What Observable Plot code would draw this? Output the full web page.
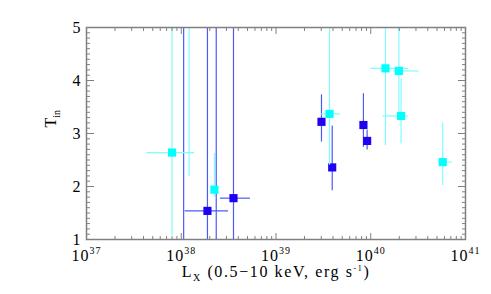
<!DOCTYPE html>
<html><head><meta charset="utf-8">
<script src="https://cdn.jsdelivr.net/npm/d3@7"></script>
<script src="https://cdn.jsdelivr.net/npm/@observablehq/plot@0.6"></script>
<style>body{margin:0;background:#fff}</style>
</head><body><div id="chart"></div>
<script>
// Blue points (null T = marker outside the plotted range)
const blueLx   = [1.89e38, 3.56e38, 3.02e39, 3.92e39, 8.37e39, 9.16e39, 1.06e38, 2.34e38];
const blueLxLo = [1.10e38, 2.59e38, null, null, null, null, null, null];
const blueLxHi = [3.16e38, 5.37e38, null, null, null, null, null, null];
const blueT    = [1.54, 1.78, 3.22, 2.36, 3.16, 2.86, null, null];
const blueTLo  = [0, 0, 2.84, 1.92, 2.74, 2.69, 0, 0];
const blueTHi  = [6, 6, 3.73, 3.14, 3.75, 3.06, 6, 6];
// Cyan points
const cyanLx   = [8.0e37, 1.21e38, 2.24e38, 3.67e39, 1.43e40, 1.98e40, 2.09e40, 5.75e40];
const cyanLxLo = [4.33e37, null, null, 3.02e39, 1.0e40, 1.74e40, 1.34e40, 5.22e40];
const cyanLxHi = [1.38e38, null, null, 4.79e39, 2.5e40, 3.21e40, 2.51e40, 7.24e40];
const cyanT    = [2.64, null, 1.94, 3.37, 4.23, 4.18, 3.33, 2.46];
const cyanTLo  = [1.075, 2.19, 1.8, 2.4, 2.77, 3.4, 2.8, 2.02];
const cyanTHi  = [6, 6, 2.62, 6, 6, 6, 4.03, 3.20];
// Ticks
const xMajor = [1e37, 1e38, 1e39, 1e40, 1e41];
const xMinorMult = [2, 3, 4, 5, 6, 7, 8, 9];
const yMajor = [1, 2, 3, 4, 5];
const xLabel = "Lx (0.5−10 keV, erg s-1)";
const yLabel = "Tin";

const xMinor = [];
for (let e = 37; e < 41; e++) for (const k of xMinorMult) xMinor.push(k * Math.pow(10, e));
const yMinor = [];
for (let i = 10; i <= 50; i++) if (i % 10) yMinor.push(i / 10);

function rows(Lx, Lo, Hi, T, TLo, THi) {
  return Lx.map((d, i) => ({L: d, Llo: Lo[i], Lhi: Hi[i], T: T[i], Tlo: TLo[i], Thi: THi[i]}));
}
const blue = rows(blueLx, blueLxLo, blueLxHi, blueT, blueTLo, blueTHi);
const cyan = rows(cyanLx, cyanLxLo, cyanLxHi, cyanT, cyanTLo, cyanTHi);

const blueLine = "#4a5cf4", cyanLine = "#7ffcff";
const blueFill = "#2000f0", cyanFill = "#00ffff";
const axisCol = "#808080";

const chart = Plot.plot({
  width: 491, height: 294,
  marginLeft: 86, marginRight: 26, marginTop: 27, marginBottom: 55,
  style: {fontFamily: "'Liberation Serif', 'DejaVu Serif', serif", fontSize: "16px", color: "#000", background: "#fff"},
  x: {type: "log", domain: [1e37, 1e41]},
  y: {domain: [1, 5]},
  marks: [
    // error bars
    Plot.ruleX(blue, {x: "L", y1: "Tlo", y2: "Thi", stroke: blueLine, strokeWidth: 1.2, clip: true}),
    Plot.ruleY(blue.filter(d => d.Llo != null), {y: "T", x1: "Llo", x2: "Lhi", stroke: blueLine, strokeWidth: 1.2, clip: true}),
    Plot.dot(blue.filter(d => d.T != null), {x: "L", y: "T", symbol: "square", r: 4.6, fill: blueFill, stroke: "none", clip: true}),
    Plot.ruleX(cyan, {x: "L", y1: "Tlo", y2: "Thi", stroke: cyanLine, strokeWidth: 1.2, clip: true}),
    Plot.ruleY(cyan.filter(d => d.Llo != null), {y: "T", x1: "Llo", x2: "Lhi", stroke: cyanLine, strokeWidth: 1.2, clip: true}),
    Plot.dot(cyan.filter(d => d.T != null), {x: "L", y: "T", symbol: "square", r: 4.6, fill: cyanFill, stroke: "none", clip: true}),
    // frame and axes
    Plot.frame({stroke: axisCol, strokeWidth: 1.5}),
    Plot.axisX(xMinor, {anchor: "bottom", tickSize: -3, text: null, stroke: axisCol, label: null}),
    Plot.axisX(xMinor, {anchor: "top", tickSize: -3, text: null, stroke: axisCol, label: null}),
    Plot.axisX(xMajor, {anchor: "top", tickSize: -6, text: null, stroke: axisCol, label: null}),
    Plot.axisX(xMajor, {anchor: "bottom", tickSize: -6, tickPadding: 16, stroke: axisCol, label: null,
      tickFormat: d => "10^" + Math.round(Math.log10(d))}),
    Plot.axisY(yMinor, {anchor: "left", tickSize: -4, text: null, stroke: axisCol, label: null}),
    Plot.axisY(yMinor, {anchor: "right", tickSize: -4, text: null, stroke: axisCol, label: null}),
    Plot.axisY(yMajor, {anchor: "right", tickSize: -8, text: null, stroke: axisCol, label: null}),
    Plot.axisY(yMajor, {anchor: "left", tickSize: -8, tickPadding: 14, stroke: axisCol, label: null, tickFormat: d => String(d)}),
    // axis titles
    Plot.text([xLabel], {frameAnchor: "bottom", dy: 37, text: d => d, ariaLabel: () => "xlabel"}),
    Plot.text([yLabel], {frameAnchor: "left", dx: -36, dy: -6, rotate: -90, text: d => d, ariaLabel: () => "ylabel"})
  ]
});
document.getElementById("chart").appendChild(chart);

// rich text: superscripts / subscripts
chart.querySelectorAll("text").forEach(t => {
  const s = t.textContent;
  if (s.startsWith("10^")) {
    t.setAttribute("letter-spacing", "1");
    t.innerHTML = `10<tspan font-size="10" dy="-7">${s.slice(3)}</tspan>`;
  } else if (s === xLabel) {
    t.setAttribute("letter-spacing", "1.6");
    t.innerHTML = 'L<tspan font-size="10" dy="4">X</tspan><tspan dy="-4"> (0.5−10 keV, erg s</tspan><tspan font-size="8" dy="-6">-1</tspan><tspan dy="6">)</tspan>';
  } else if (s === yLabel) {
    t.innerHTML = 'T<tspan font-size="10" dy="4">in</tspan>';
  }
});
</script>
</body></html>
